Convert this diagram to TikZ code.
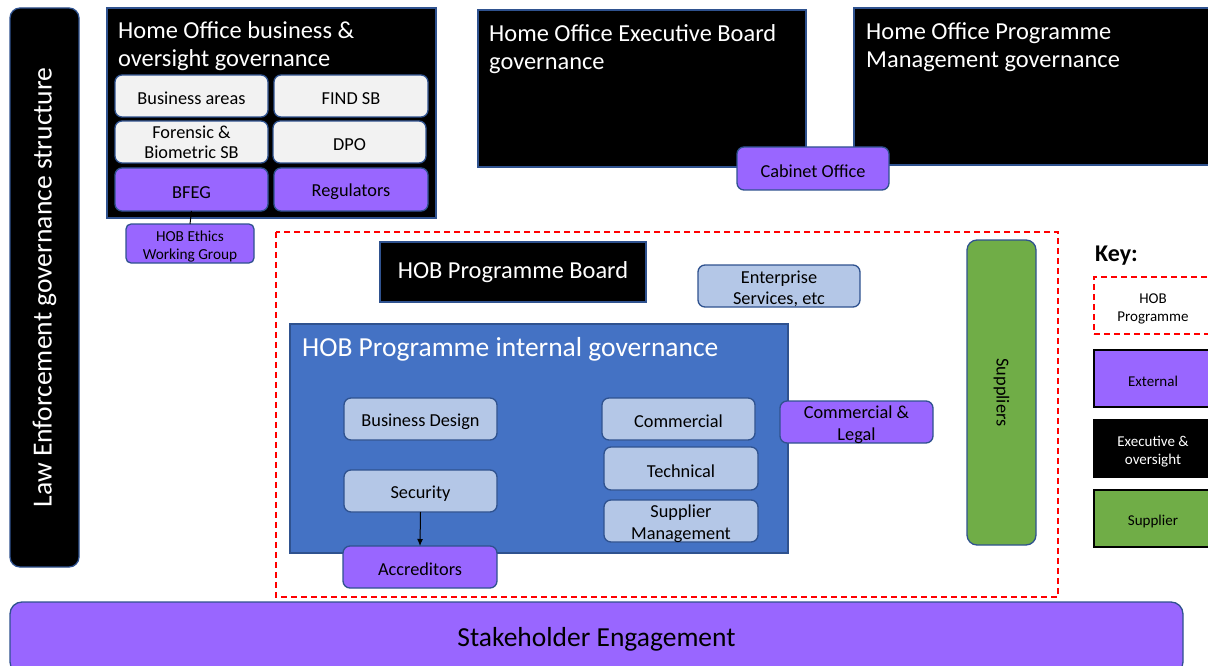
\documentclass[tikz,border=0pt]{standalone}
\usepackage{fontspec}
\setmainfont{Carlito}
\usetikzlibrary{arrows.meta}
\definecolor{purp}{HTML}{9966FF}
\definecolor{lgray}{HTML}{F2F2F2}
\definecolor{lblue}{HTML}{B4C7E7}
\definecolor{mblue}{HTML}{4472C4}
\definecolor{sgreen}{HTML}{70AD47}
\definecolor{bord}{HTML}{2F528F}
\newcommand{\upstrut}[1]{\rule{0pt}{#1}}
\begin{document}
\begin{tikzpicture}[x=1pt,y=-1pt]
\useasboundingbox (0,0) rectangle (1208,666);
\tikzset{
  basebox/.style={draw=bord, line width=1.3pt, inner sep=2pt, outer sep=0pt, align=center, anchor=north west, text=black},
  small/.style={font=\fontsize{18.3}{22}\selectfont, execute at begin node={\upstrut{17.3pt}}},
  tiny/.style={font=\fontsize{15}{18}\selectfont, execute at begin node={\upstrut{17pt}}},
  twoline/.style={execute at begin node={}, text depth=0pt, inner ysep=0pt},
  greybox/.style={basebox, small, fill=lgray, rounded corners=7pt},
  lbluebox/.style={basebox, small, fill=lblue, rounded corners=7pt},
  extbox/.style={basebox, small, fill=purp, rounded corners=7pt},
  blackbox/.style={basebox, fill=black},
  titletext/.style={text=white, font=\fontsize{24.4}{28.5}\selectfont, align=left, anchor=north west, inner sep=0pt},
  keybox/.style={draw=black, line width=1.3pt, anchor=north west, align=center, inner sep=2pt, outer sep=0pt, tiny, minimum width=118, minimum height=57},
  hobdash/.style={draw=red, line width=1.4pt, dash pattern=on 6pt off 4pt}
}
% Law enforcement bar
\node[basebox, anchor=center, fill=black, rounded corners=10pt, rotate=90, minimum width=559, minimum height=69, text=white, font=\fontsize{27.6}{30}\selectfont] (law) at (44.5,287.5) {Law Enforcement governance structure};

% Home Office business & oversight
\node[blackbox, minimum width=329, minimum height=210] (hobus) at (107,8) {};
\node[titletext] (hobust) at (118,21) {Home Office business \&\\oversight governance};
\node[greybox, minimum width=153, minimum height=42] (ba) at (115,75) {Business areas};
\node[greybox, minimum width=154, minimum height=42] (find) at (274,75) {FIND SB};
\node[greybox, twoline, minimum width=153, minimum height=42, font=\fontsize{18.3}{20}\selectfont] (fb) at (115,121) {\upstrut{14pt}Forensic \&\\Biometric SB};
\node[greybox, minimum width=153, minimum height=42] (dpo) at (273,121) {DPO};
\node[extbox, minimum width=153, minimum height=43] (bfeg) at (115,168) {BFEG};
\node[extbox, minimum width=154, minimum height=43] (reg) at (274,168) {Regulators};
\node[extbox, twoline, rounded corners=5pt, minimum width=128, minimum height=39, font=\fontsize{15.3}{18}\selectfont] (eth) at (126,224) {\upstrut{13pt}HOB Ethics\\Working Group};
\draw[line width=1pt] (bfeg.south) -- (eth.north);

% Executive board
\node[blackbox, minimum width=328, minimum height=157] (exb) at (478,10) {};
\node[titletext] (exbt) at (489,24) {Home Office Executive Board\\governance};
% Programme management
\node[blackbox, minimum width=360, minimum height=157] (pmg) at (854,8) {};
\node[titletext] (pmgt) at (866,22) {Home Office Programme\\Management governance};
\node[extbox, minimum width=152, minimum height=43] (cab) at (737,147) {Cabinet Office};

% HOB programme dashed region
\draw[hobdash] (276,232) rectangle (1058,597);
\node[blackbox, minimum width=266, minimum height=60, text=white, font=\fontsize{24.4}{28}\selectfont] (pb) at (380,242) {HOB Programme Board};
\node[lbluebox, twoline, minimum width=162, minimum height=42, font=\fontsize{18.3}{21}\selectfont] (ent) at (698,265) {\upstrut{15pt}Enterprise\\Services, etc};

% Internal governance
\node[blackbox, fill=mblue, minimum width=498, minimum height=229] (ig) at (290,324) {};
\node[titletext, font=\fontsize{27.5}{30}\selectfont] (igt) at (302,337) {HOB Programme internal governance};
\node[lbluebox, minimum width=153, minimum height=42] (bd) at (344,398) {Business Design};
\node[lbluebox, minimum width=153, minimum height=42] (com) at (602,398) {Commercial};
\node[lbluebox, minimum width=153, minimum height=42] (sec) at (344,470) {Security};
\node[lbluebox, minimum width=154, minimum height=43] (tech) at (604,447) {Technical};
\node[lbluebox, twoline, minimum width=154, minimum height=42] (sm) at (604,500) {\upstrut{14pt}Supplier\\Management};
\node[extbox, minimum width=154, minimum height=42] (acc) at (343,546) {Accreditors};
\draw[line width=1pt, -{Latex[length=7pt,width=6pt]}] (sec.south) -- (acc.north);
\node[extbox, twoline, minimum width=153, minimum height=42] (cl) at (780,401) {\upstrut{14pt}Commercial \&\\Legal};

% Suppliers
\node[basebox, anchor=center, fill=sgreen, rounded corners=10pt, rotate=-90, minimum width=305, minimum height=69, font=\fontsize{18.3}{22}\selectfont] (sup) at (1001.5,392.5) {Suppliers};

% Key
\node[anchor=west, inner sep=0pt, font=\fontsize{24}{28}\selectfont\bfseries] (key) at (1095,256) {Key:};
\node[keybox, draw=red, hobdash, execute at begin node={}] (k1) at (1094,277) {\upstrut{16.5pt}HOB\\Programme};
\node[keybox, fill=purp] (k2) at (1094,350) {External};
\node[keybox, fill=black, text=white, execute at begin node={}] (k3) at (1094,420) {\upstrut{16.5pt}Executive \&\\oversight};
\node[keybox, fill=sgreen] (k4) at (1094,490) {Supplier};

% Stakeholder engagement
\node[basebox, fill=purp, rounded corners=12pt, minimum width=1173, minimum height=72, font=\fontsize{27.5}{30}\selectfont, text depth=8pt, text height=10pt] (se) at (10,602) {\raisebox{-7pt}{Stakeholder Engagement}};
\end{tikzpicture}
\end{document}
